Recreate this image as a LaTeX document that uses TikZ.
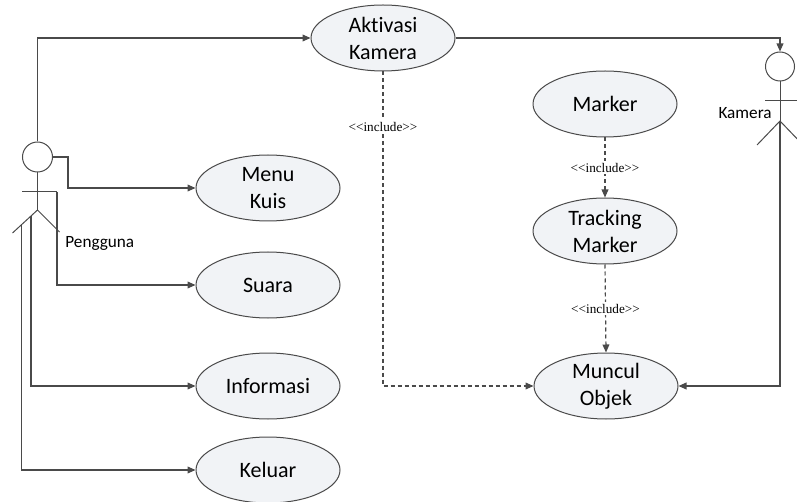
\documentclass[tikz,border=0pt]{standalone}
\usepackage{fontspec}
\setmainfont{Carlito}[Ligatures=NoCommon]
\newfontfamily\incfont{Liberation Serif}
\usepackage{xcolor}
\usepackage{tikz}
\usetikzlibrary{shapes.geometric,arrows.meta}
\definecolor{ucfill}{HTML}{F1F3F6}
\definecolor{ucline}{HTML}{4A4A4A}

\begin{document}
\begin{tikzpicture}[x=0.5pt,y=-0.5pt,
	usecase/.style={ellipse,draw=ucline,fill=ucfill,line width=0.5pt,minimum width=72pt,minimum height=33pt,inner sep=0pt,align=center,font=\fontsize{11}{13.5}\selectfont},
	head/.style={circle,draw=ucline,fill=white,line width=0.5pt,minimum size=15pt,inner sep=0pt},
	limb/.style={draw=ucline,line width=0.5pt},
	conn/.style={draw=ucline,line width=0.6pt,-{Triangle[length=4pt,width=3.4pt]}},
	incl/.style={conn,dash pattern=on 2pt off 1.5pt},
	incllabel/.style={fill=white,inner sep=1pt,font=\incfont\fontsize{6.6}{7.5}\selectfont},
	actorlabel/.style={font=\fontsize{8.6}{10}\selectfont,inner sep=0pt}]
	\useasboundingbox (0,0) rectangle (797,502);
	\node[usecase] (akt) at (383,38) {Aktivasi\\Kamera};
	\node[usecase] (kuis) at (268,188) {Menu\\Kuis};
	\node[usecase] (suara) at (268,285) {Suara};
	\node[usecase] (info) at (268,386) {Informasi};
	\node[usecase] (keluar) at (268,470) {Keluar};
	\node[usecase] (marker) at (605,104) {Marker};
	\node[usecase] (track) at (605,231) {Tracking\\Marker};
	\node[usecase] (muncul) at (606,386) {Muncul\\Objek};
	\node[head] (pHead) at (37.5,157) {};
	\coordinate (pHip) at (37.5,210);
	\coordinate (pArmL) at (22,192);
	\coordinate (pArmR) at (57,192);
	\coordinate (pFootL) at (12.5,233);
	\coordinate (pFootR) at (59.5,232);
	\coordinate (pLegA) at (31,216);
	\coordinate (pLegB) at (21.7,224.4);
	\coordinate (pBend) at (68,157);
	\path[limb] (pHead.south) -- (pHip);
	\path[limb] (pArmL) -- (pArmR);
	\path[limb] (pFootL) -- (pHip) -- (pFootR);
	\node[actorlabel,anchor=west] (pName) at (65,243) {Pengguna};
	\node[head,minimum size=14.5pt] (kHead) at (780,66.5) {};
	\coordinate (kHip) at (780,121);
	\coordinate (kArmL) at (765,101);
	\coordinate (kArmR) at (797,101);
	\coordinate (kFootL) at (757,145);
	\coordinate (kFootR) at (803,145);
	\path[limb] (kHead.south) -- (kHip);
	\path[limb] (kArmL) -- (kArmR);
	\path[limb] (kFootL) -- (kHip) -- (kFootR);
	\node[actorlabel,anchor=east] (kName) at (772,113) {Kamera};
	\path[conn] (pHead.north) |- (akt.west);
	\path[conn] (pHead.east) -- (pBend) |- (kuis.west);
	\path[conn] (pArmR) |- (suara.west);
	\path[conn] (pLegA) |- (info.west);
	\path[conn] (pLegB) |- (keluar.west);
	\path[conn] (akt.east) -| (kHead.north);
	\path[conn] (kHip) |- (muncul.east);
	\path[incl] (akt.south) |- (muncul.west) node[incllabel,pos=0.088] {<<include>>};
	\path[incl] (marker.south) -- (track.north) node[incllabel,midway] {<<include>>};
	\path[incl] (track.south) -- (muncul.north) node[incllabel,midway] {<<include>>};
\end{tikzpicture}
\end{document}
